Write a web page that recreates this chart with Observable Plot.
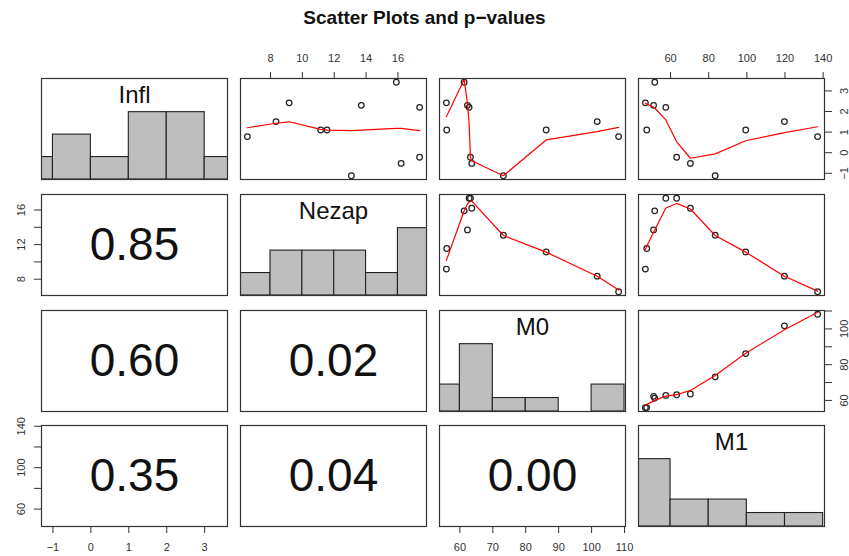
<!DOCTYPE html>
<html><head><meta charset="utf-8">
<script src="https://cdn.jsdelivr.net/npm/d3@7"></script>
<script src="https://cdn.jsdelivr.net/npm/@observablehq/plot@0.6"></script>
<style>
body{margin:0;background:#fff;font-family:"Liberation Sans",Arial,Helvetica,sans-serif;}
#chart{position:relative;width:849px;height:556px;overflow:hidden;background:#fff;}
#title{position:absolute;left:0;width:849px;top:7px;line-height:22px;text-align:center;font-weight:bold;font-size:19px;color:#111;}
.panel{position:absolute;}
.panel svg{overflow:visible;max-width:none;}
</style></head><body>
<div id="chart"><div id="title">Scatter Plots and p−values</div></div>
<script>
// ---- data (11 observations) ----
const names = ["Infl", "Nezap", "M0", "M1"];
const Infl  = [0.78, 1.51, 2.42, 1.10, 1.10, -1.12, 2.30, 3.42, -0.52, 2.20, -0.22];
const Nezap = [6.55, 8.35, 9.17, 11.15, 11.55, 13.08, 13.70, 15.90, 16.20, 17.36, 17.36];
const M0    = [108.2, 101.7, 55.9, 86.2, 56.0, 73.2, 62.3, 61.3, 63.6, 62.8, 63.2];
const M1    = [137.1, 119.7, 46.8, 99.4, 47.5, 83.4, 51.1, 51.7, 70.4, 57.5, 63.2];

// histogram breaks
const inflBreaks  = [-2, -1, 0, 1, 2, 3, 4];
const nezapBreaks = [6, 8, 10, 12, 14, 16, 18];
const m0Breaks    = [50, 60, 70, 80, 90, 100, 110];
const m1Breaks    = [40, 60, 80, 100, 120, 140];

// axis ticks and labels
const inflTicks  = [-1, 0, 1, 2, 3];
const nezapTicks = [8, 10, 12, 14, 16];
const m0Ticks    = [60, 70, 80, 90, 100, 110];
const m1Ticks    = [60, 80, 100, 120, 140];
const nezapSideLabels = [8, 12, 16];
const m0SideLabels    = [60, 80, 100];
const m1SideLabels    = [60, 100, 140];

const smoothInflNezap = [1.21, 1.43, 1.50, 1.13, 1.10, 1.07, 1.10, 1.18, 1.18, 1.07, 1.07];
const smoothInflM0    = [1.23, 1.02, 1.75, 0.62, 1.78, -1.12, 2.40, 3.55, -0.39, 1.43, -0.22];
const smoothInflM1    = [1.26, 0.97, 2.40, 0.58, 2.36, -0.06, 2.22, 2.17, -0.27, 1.59, 0.53];
const smoothNezapM0   = [6.74, 8.34, 10.18, 11.13, 10.30, 13.05, 16.69, 15.92, 17.03, 16.92, 16.99];
const smoothNezapM1   = [6.62, 8.34, 11.44, 11.13, 11.80, 13.05, 13.43, 13.70, 16.12, 16.23, 16.76];
const smoothM0M1      = [109.3, 99.5, 57.2, 86.4, 57.8, 74.0, 59.6, 60.0, 65.6, 62.4, 63.2];

// lower-panel p-value labels
const pRow  = [1, 2, 2, 3, 3, 3];
const pCol  = [0, 0, 1, 0, 1, 2];
const pText = ["0.85", "0.60", "0.02", "0.35", "0.04", "0.00"];

// ---- layout ----
const colX = [41, 240, 439, 638];
const rowY = [78, 194, 310, 425];
const PW = 186, PH = 101, M = 40;
const FONT = '"Liberation Sans", Arial, Helvetica, sans-serif';
const INK = "#222";

const vars = [Infl, Nezap, M0, M1];
const breaks = [inflBreaks, nezapBreaks, m0Breaks, m1Breaks];
const smooth = {
  "0,1": smoothInflNezap, "0,2": smoothInflM0, "0,3": smoothInflM1,
  "1,2": smoothNezapM0, "1,3": smoothNezapM1, "2,3": smoothM0M1
};
const topAxes    = {1: [nezapTicks, nezapTicks], 3: [m1Ticks, m1Ticks]};
const bottomAxes = {0: [inflTicks, inflTicks], 2: [m0Ticks, m0Ticks]};
const leftAxes   = {1: [nezapTicks, nezapSideLabels], 3: [m1Ticks, m1SideLabels]};
const rightAxes  = {0: [inflTicks, inflTicks], 2: [m0Ticks, m0SideLabels]};

const ext = v => { const [a, b] = d3.extent(v); const p = (b - a) * 0.04; return [a - p, b + p]; };
const fmtFor = labels => d => labels.includes(d) ? (d < 0 ? "\u2212" + Math.abs(d) : String(d)) : "";

const chart = document.getElementById("chart");

for (let i = 0; i < 4; i++) {
  for (let j = 0; j < 4; j++) {
    const marks = [];
    const xDomain = ext(vars[j]);
    const yDomain = i === j ? [0, 1.5] : ext(vars[i]);

    if (i === j) {
      const bins = d3.bin().domain([breaks[i][0], breaks[i][breaks[i].length - 1]])
        .thresholds(breaks[i].slice(1, -1))(vars[i]);
      const maxC = d3.max(bins, b => b.length);
      marks.push(Plot.rectY(bins, {
        x1: "x0", x2: "x1", y: b => b.length / maxC,
        fill: "#bebebe", stroke: INK, strokeWidth: 1.1, inset: 0, clip: true
      }));
      marks.push(Plot.text([names[i]], {
        text: d => d, frameAnchor: "top", dy: 17, lineAnchor: "middle",
        fontSize: 24, fill: "#111"
      }));
    } else if (i < j) {
      const pts = d3.sort(vars[j].map((x, k) => ({x, y: vars[i][k], s: smooth[i + "," + j][k]})), d => d.x);
      marks.push(Plot.dot(pts, {x: "x", y: "y", r: 2.8, stroke: INK, strokeWidth: 1.25, fill: "none"}));
      marks.push(Plot.line(pts, {x: "x", y: "s", stroke: "#ff0000", strokeWidth: 1.2, clip: true}));
    } else {
      const k = pText.findIndex((t, n) => pRow[n] === i && pCol[n] === j);
      marks.push(Plot.text([pText[k]], {
        text: d => d, frameAnchor: "middle", lineAnchor: "middle", fontSize: 46, fill: "#111"
      }));
    }
    marks.push(Plot.frame({stroke: "#333", strokeWidth: 1.2}));

    let hasX = false, hasY = false;
    const axOpts = {tickSize: 7, tickPadding: 10, label: null, color: "#333", fontSize: 11};
    if (i === 0 && topAxes[j]) {
      hasX = true;
      marks.push(Plot.axisX(topAxes[j][0], {...axOpts, anchor: "top", tickFormat: fmtFor(topAxes[j][1])}));
    }
    if (i === 3 && bottomAxes[j]) {
      hasX = true;
      marks.push(Plot.axisX(bottomAxes[j][0], {...axOpts, anchor: "bottom", tickFormat: fmtFor(bottomAxes[j][1])}));
    }
    if (j === 0 && leftAxes[i]) {
      hasY = true;
      marks.push(Plot.axisY(leftAxes[i][0], {...axOpts, anchor: "left", tickRotate: -90, lineAnchor: "bottom", tickFormat: fmtFor(leftAxes[i][1])}));
    }
    if (j === 3 && rightAxes[i]) {
      hasY = true;
      marks.push(Plot.axisY(rightAxes[i][0], {...axOpts, anchor: "right", tickRotate: -90, lineAnchor: "top", tickPadding: 9, tickFormat: fmtFor(rightAxes[i][1])}));
    }

    const svg = Plot.plot({
      width: PW + 2 * M, height: PH + 2 * M,
      marginTop: M, marginBottom: M, marginLeft: M, marginRight: M,
      x: hasX ? {domain: xDomain} : {domain: xDomain, axis: null},
      y: hasY ? {domain: yDomain} : {domain: yDomain, axis: null},
      style: {background: "transparent", overflow: "visible", fontFamily: FONT, fontSize: "11px", color: "#333"},
      marks
    });
    const div = document.createElement("div");
    div.className = "panel";
    div.style.left = (colX[j] - M) + "px";
    div.style.top = (rowY[i] - M) + "px";
    div.appendChild(svg);
    chart.appendChild(div);
  }
}
</script>
</body></html>
